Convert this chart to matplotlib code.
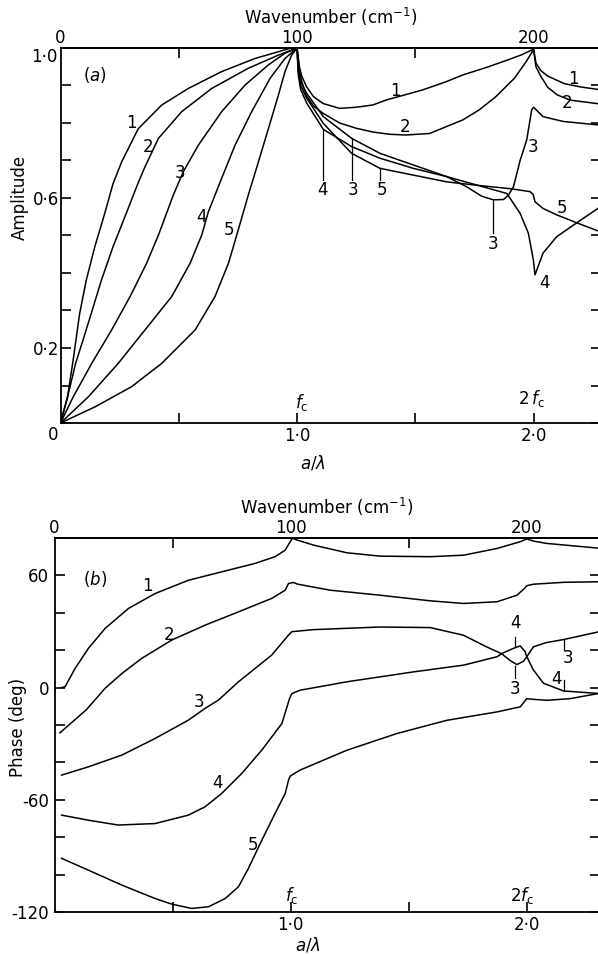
import matplotlib
matplotlib.use("Agg")
import matplotlib.pyplot as plt
import matplotlib.transforms as mtransforms
from matplotlib.ticker import MultipleLocator, FixedLocator

plt.rcParams['font.family'] = ['DejaVu Sans']
plt.rcParams['mathtext.fontset'] = 'dejavusans'

W, H = 598, 955

# ---------------- panel (a): amplitude vs a/lambda ----------------
amp_x1 = [0, 0.03, 0.054, 0.081, 0.109, 0.145, 0.187, 0.222, 0.259, 0.329, 0.428, 0.54, 0.681, 0.822, 0.97, 1.0,
          1.01, 1.02, 1.04, 1.07, 1.11, 1.18, 1.25, 1.32, 1.38, 1.45, 1.53, 1.63, 1.70, 1.80, 1.89, 1.95, 2.0,
          2.01, 2.03, 2.06, 2.13, 2.2, 2.29]
amp_y1 = [0, 0.07, 0.17, 0.292, 0.381, 0.47, 0.559, 0.638, 0.697, 0.785, 0.848, 0.892, 0.937, 0.972, 0.999, 1.0,
          0.95, 0.925, 0.897, 0.87, 0.852, 0.839, 0.842, 0.848, 0.862, 0.874, 0.888, 0.91, 0.928, 0.948, 0.968, 0.982, 0.997,
          0.96, 0.94, 0.925, 0.905, 0.896, 0.888]

amp_x2 = [0, 0.03, 0.064, 0.095, 0.13, 0.173, 0.222, 0.278, 0.328, 0.357, 0.414, 0.512, 0.639, 0.794, 0.921, 1.0,
          1.01, 1.02, 1.04, 1.07, 1.11, 1.18, 1.25, 1.32, 1.39, 1.46, 1.56, 1.63, 1.70, 1.77, 1.84, 1.92, 1.97, 2.0,
          2.01, 2.03, 2.06, 2.1, 2.155, 2.29]
amp_y2 = [0, 0.07, 0.159, 0.221, 0.292, 0.381, 0.47, 0.559, 0.64, 0.683, 0.759, 0.83, 0.892, 0.946, 0.981, 1.0,
          0.94, 0.91, 0.872, 0.845, 0.826, 0.80, 0.786, 0.776, 0.77, 0.768, 0.772, 0.79, 0.808, 0.835, 0.87, 0.92, 0.965, 0.996,
          0.95, 0.925, 0.895, 0.875, 0.861, 0.85]

amp_x3 = [0, 0.054, 0.132, 0.216, 0.294, 0.364, 0.414, 0.477, 0.519, 0.583, 0.681, 0.78, 0.879, 0.949, 1.0,
          1.005, 1.015, 1.041, 1.111, 1.231, 1.351, 1.492, 1.633, 1.717, 1.78, 1.83, 1.873, 1.894, 1.915, 1.943,
          1.971, 1.992, 2.0, 2.04, 2.126, 2.29]
amp_y3 = [0, 0.07, 0.159, 0.248, 0.337, 0.426, 0.501, 0.608, 0.67, 0.741, 0.83, 0.901, 0.955, 0.986, 1.0,
          0.95, 0.91, 0.879, 0.817, 0.759, 0.719, 0.688, 0.657, 0.63, 0.605, 0.595, 0.596, 0.608, 0.63, 0.70,
          0.755, 0.835, 0.842, 0.817, 0.804, 0.794]

amp_x4 = [0, 0.118, 0.244, 0.357, 0.47, 0.548, 0.597, 0.625, 0.681, 0.738, 0.808, 0.886, 0.949, 1.0,
          1.005, 1.015, 1.041, 1.111, 1.231, 1.351, 1.492, 1.633, 1.746, 1.887, 1.943, 1.978, 1.999, 2.006,
          2.04, 2.098, 2.19, 2.29]
amp_y4 = [0, 0.07, 0.159, 0.248, 0.337, 0.426, 0.501, 0.563, 0.652, 0.741, 0.83, 0.919, 0.972, 1.0,
          0.93, 0.89, 0.853, 0.783, 0.737, 0.706, 0.679, 0.657, 0.637, 0.612, 0.559, 0.506, 0.435, 0.395,
          0.453, 0.497, 0.537, 0.58]

amp_x5 = [0, 0.146, 0.301, 0.428, 0.569, 0.653, 0.71, 0.745, 0.794, 0.837, 0.879, 0.921, 0.949, 0.977, 1.0,
          1.005, 1.015, 1.041, 1.111, 1.231, 1.351, 1.492, 1.633, 1.774, 1.90, 1.985, 1.998, 2.006,
          2.04, 2.098, 2.19, 2.29]
amp_y5 = [0, 0.043, 0.097, 0.159, 0.248, 0.337, 0.426, 0.501, 0.608, 0.697, 0.785, 0.874, 0.937, 0.981, 1.0,
          0.94, 0.90, 0.866, 0.799, 0.719, 0.679, 0.661, 0.643, 0.633, 0.625, 0.617, 0.61, 0.59,
          0.572, 0.555, 0.532, 0.508]

# ---------------- panel (b): phase vs a/lambda ----------------
ph_x1 = [0.03, 0.045, 0.087, 0.143, 0.214, 0.313, 0.426, 0.567, 0.708, 0.849, 0.934, 0.977, 0.998, 1.008,
         1.03, 1.097, 1.238, 1.379, 1.591, 1.732, 1.874, 1.972, 2.0, 2.03, 2.085, 2.31]
ph_y1 = [0, 0.5, 10.2, 20.9, 31.6, 42.3, 50.3, 57.4, 61.9, 66.4, 70, 73.5, 78, 79.8,
         78.8, 76.2, 72.1, 70.3, 70, 70.8, 74.4, 78, 79.5, 78.3, 77.1, 74.5]

ph_x2 = [0.023, 0.136, 0.214, 0.285, 0.369, 0.496, 0.638, 0.779, 0.92, 0.977, 0.991, 1.012,
         1.03, 1.167, 1.379, 1.591, 1.732, 1.874, 1.958, 1.99, 2.0, 2.029, 2.156, 2.31]
ph_y2 = [-24.2, -11.7, -0.4, 7.5, 15.6, 25.4, 33.4, 40.5, 47.7, 52.1, 55.7, 56.2,
         55.3, 52.1, 49.4, 46.4, 45, 45.9, 49.4, 53, 54.5, 55.3, 56.3, 56.6]

ph_x3 = [0.03, 0.143, 0.285, 0.426, 0.567, 0.638, 0.694, 0.779, 0.92, 0.991, 1.005,
         1.097, 1.379, 1.591, 1.732, 1.831, 1.895, 1.929, 1.958, 1.986, 2.0, 2.028, 2.08, 2.156, 2.31]
ph_y3 = [-46.8, -42.4, -36.1, -27.2, -17.4, -11.1, -6.7, 3.1, 17.4, 28.1, 29.9,
         31, 32.4, 32.1, 28, 21.7, 18.0, 14.5, 12.3, 14.1, 16.5, 21.8, 24, 25.7, 30]

ph_x4 = [0.03, 0.143, 0.27, 0.426, 0.567, 0.638, 0.708, 0.793, 0.878, 0.963, 0.995, 1.005,
         1.04, 1.238, 1.52, 1.732, 1.874, 1.895, 1.944, 1.972, 1.993, 2.0, 2.028, 2.071, 2.156, 2.31]
ph_y4 = [-68.2, -70.9, -73.5, -72.7, -68.2, -63.7, -56.6, -45.9, -33.4, -19.2, -6, -3.2,
         -1.4, 3.1, 8.4, 12, 16.5, 18.3, 21, 22.3, 19.2, 16.5, 9.4, 2.3, -1.8, -3.2]

ph_x5 = [0.03, 0.143, 0.285, 0.426, 0.497, 0.581, 0.652, 0.723, 0.779, 0.821, 0.878, 0.934, 0.977, 0.991, 0.998,
         1.04, 1.238, 1.449, 1.661, 1.874, 1.972, 1.99, 2.0, 2.02, 2.085, 2.184, 2.31]
ph_y5 = [-91.3, -97.6, -105.6, -112.8, -115.8, -118.1, -117.2, -112.8, -106.5, -96.7, -81.6, -67.3, -56.6, -49.5, -47.3,
         -44.1, -33.5, -24.6, -17.5, -13, -10.3, -7.5, -5.9, -6.2, -6.8, -5.9, -3]

# curve labels: (text, x, y, leader_x, leader_y0, leader_y1)
amp_labels = [("1", 0.302, 0.80, None, None, None), ("2", 0.37, 0.736, None, None, None),
              ("3", 0.505, 0.667, None, None, None), ("4", 0.598, 0.549, None, None, None),
              ("5", 0.712, 0.515, None, None, None),
              ("1", 1.414, 0.885, None, None, None), ("2", 1.457, 0.789, None, None, None),
              ("4", 1.106, 0.621, 1.111, 0.648, 0.783), ("3", 1.237, 0.621, 1.231, 0.648, 0.759),
              ("5", 1.359, 0.621, 1.351, 0.648, 0.679), ("3", 1.829, 0.478, 1.83, 0.507, 0.595),
              ("1", 2.167, 0.917, None, None, None), ("2", 2.142, 0.853, None, None, None),
              ("3", 1.998, 0.736, None, None, None), ("5", 2.12, 0.573, None, None, None),
              ("4", 2.045, 0.373, None, None, None)]
ph_labels = [("1", 0.392, 54.3, None, None, None), ("2", 0.485, 28, None, None, None),
             ("3", 0.612, -7.8, None, None, None), ("4", 0.689, -51, None, None, None),
             ("5", 0.841, -84, None, None, None),
             ("4", 1.951, 34.5, 1.951, 27, 21.5), ("3", 1.951, -0.5, 1.951, 5, 11.5),
             ("3", 2.175, 15.6, 2.156, 20, 25.7), ("4", 2.125, 4.5, 2.156, 4, -1.8)]


def fx(px):
    return px / W


def fy(py):
    return 1 - py / H


fig = plt.figure(figsize=(W / 100, H / 100), dpi=100)

# axes positions in pixels of the reference (left, top, right, bottom)
ax_a = fig.add_axes([fx(60.5), fy(423), fx(601) - fx(60.5), fy(48) - fy(423)])
ax_b = fig.add_axes([fx(54.5), fy(912), fx(600) - fx(54.5), fy(538) - fy(912)])

fs = 12


def style_axes(ax, xr, ylim):
    ax.set_xlim(0, xr)
    ax.set_ylim(*ylim)
    for s in ax.spines.values():
        s.set_linewidth(1.3)
    ax.xaxis.set_major_locator(FixedLocator([1.0, 2.0]))
    ax.xaxis.set_minor_locator(FixedLocator([0.5, 1.5]))
    ax.set_xticklabels(["1·0", "2·0"], fontsize=fs)
    ax.tick_params(axis='x', which='both', direction='in', length=7, width=1.2, pad=3)
    ax.tick_params(axis='y', which='both', direction='in', length=7, width=1.2, right=True, labelsize=fs)
    top = ax.secondary_xaxis('top', functions=(lambda v: v * 100, lambda v: v / 100))
    top.xaxis.set_major_locator(FixedLocator([0, 100, 200]))
    top.xaxis.set_minor_locator(FixedLocator([50, 150]))
    top.set_xticklabels(["0", "100", "200"], fontsize=fs)
    top.tick_params(which='major', direction='in', length=0, pad=1)
    top.tick_params(which='minor', direction='in', length=7, width=1.2)
    top.spines['top'].set_linewidth(1.3)
    top.set_xlabel("Wavenumber (cm$^{-1}$)", fontsize=fs, labelpad=3)


def draw_labels(ax, labels):
    for txt, x, y, lx, ly0, ly1 in labels:
        ax.text(x, y, txt, fontsize=fs, ha='center', va='center')
        if lx is not None:
            ax.plot([lx, lx], [ly0, ly1], color='black', lw=0.9)


# panel (a)
for xs, ys in [(amp_x1, amp_y1), (amp_x2, amp_y2), (amp_x3, amp_y3), (amp_x4, amp_y4), (amp_x5, amp_y5)]:
    ax_a.plot(xs, ys, color='black', lw=1.1)
style_axes(ax_a, 2.285, (0, 1.0))
ax_a.yaxis.set_major_locator(FixedLocator([0.2, 0.6, 1.0]))
ax_a.yaxis.set_minor_locator(MultipleLocator(0.1))
ax_a.set_yticklabels(["0·2", "0·6", "1·0"])
ax_a.tick_params(axis='y', pad=1)
# the top "1·0" sits a little below the spine in the original
shift = mtransforms.ScaledTranslation(-2 / 100, -7 / 100, fig.dpi_scale_trans)
lab_top = ax_a.get_yticklabels()[-1]
lab_top.set_transform(lab_top.get_transform() + shift)
draw_labels(ax_a, amp_labels)
ax_a.text(0.146, 0.928, "($a$)", fontsize=fs, ha='center', va='center')
ax_a.text(1.02, 0.055, "$f_{\\mathrm{c}}$", fontsize=fs, ha='center', va='center')
ax_a.text(1.99, 0.066, "$2\\,f_{\\mathrm{c}}$", fontsize=fs, ha='center', va='center')
fig.text(fx(53), fy(435), "0", fontsize=fs, ha='center', va='center')
fig.text(fx(20), fy(197), "Amplitude", fontsize=fs, rotation=90, ha='center', va='center')
fig.text(fx(313), fy(463), "$a/\\lambda$", fontsize=fs, ha='center', va='center')

# panel (b)
for xs, ys in [(ph_x1, ph_y1), (ph_x2, ph_y2), (ph_x3, ph_y3), (ph_x4, ph_y4), (ph_x5, ph_y5)]:
    ax_b.plot(xs, ys, color='black', lw=1.1)
style_axes(ax_b, 2.31, (-120, 80))
ax_b.yaxis.set_major_locator(FixedLocator([-120, -60, 0, 60]))
ax_b.yaxis.set_minor_locator(MultipleLocator(20))
ax_b.set_yticklabels(["-120", "-60", "0", "60"])
ax_b.tick_params(axis='y', pad=4)
draw_labels(ax_b, ph_labels)
ax_b.text(0.172, 58, "($b$)", fontsize=fs, ha='center', va='center')
ax_b.text(1.006, -111, "$f_{\\mathrm{c}}$", fontsize=fs, ha='center', va='center')
ax_b.text(1.98, -111, "$2f_{\\mathrm{c}}$", fontsize=fs, ha='center', va='center')
fig.text(fx(18), fy(727), "Phase (deg)", fontsize=fs, rotation=90, ha='center', va='center')
fig.text(fx(308), fy(945), "$a/\\lambda$", fontsize=fs, ha='center', va='center')

fig.savefig("out.png", dpi=100)
